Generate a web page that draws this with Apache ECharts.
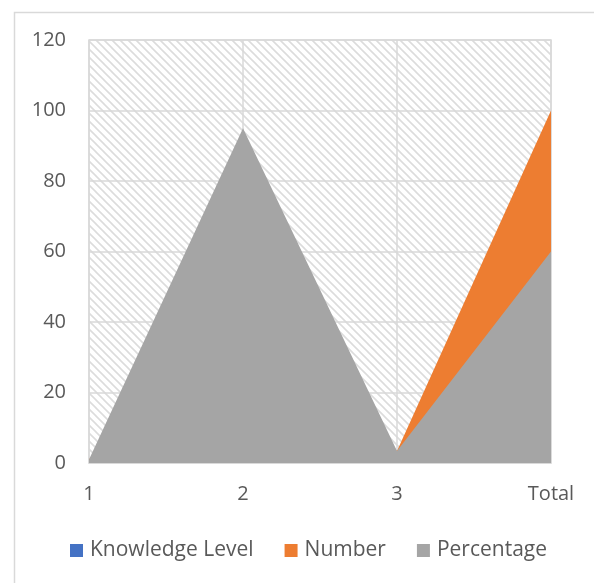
<!DOCTYPE html>
<html>
<head>
<meta charset="utf-8">
<style>
  html, body { margin: 0; padding: 0; background: #fff; }
  #chart { width: 594px; height: 583px; }
</style>
<script src="https://cdn.jsdelivr.net/npm/echarts@6/dist/echarts.min.js"></script>
</head>
<body>
<div id="chart"></div>
<script>
// Categories and series values
const categories = ['1', '2', '3', 'Total'];
const knowledgeLevel = [1, 2, 3, 6];
const numberValues = [1, 57, 3.4, 100];
const percentageValues = [1, 95, 3.4, 60];
const yTicks = { min: 0, max: 120, interval: 20 };

// Light diagonal hatching for the plot background
function makeHatch() {
  const size = 8;
  const c = document.createElement('canvas');
  c.width = size; c.height = size;
  const ctx = c.getContext('2d');
  ctx.fillStyle = '#ffffff';
  ctx.fillRect(0, 0, size, size);
  ctx.strokeStyle = '#dcdcdc';
  ctx.lineWidth = 1.6;
  ctx.beginPath();
  ctx.moveTo(-2, -2); ctx.lineTo(size + 2, size + 2);
  ctx.moveTo(-2, size - 2); ctx.lineTo(2, size + 2);
  ctx.moveTo(size - 2, -2); ctx.lineTo(size + 2, 2);
  ctx.stroke();
  return c;
}

const textColor = '#595959';
const font = '"Open Sans", Lato, sans-serif';
const axisFontSize = 20;
const legendFontSize = 21;
const chart = echarts.init(document.getElementById('chart'), null, { renderer: 'canvas' });

function areaSeries(name, data, color) {
  return {
    name: name,
    type: 'line',
    data: data,
    symbol: 'none',
    lineStyle: { width: 0, color: color },
    itemStyle: { color: color },
    areaStyle: { color: color, opacity: 1 },
    emphasis: { disabled: true }
  };
}

chart.setOption({
  animation: false,
  graphic: [{
    type: 'rect',
    left: 12, top: 10,
    shape: { width: 620, height: 620 },
    style: { fill: 'none', stroke: '#d9d9d9', lineWidth: 1.5 },
    z: -10
  }],
  grid: {
    left: 89, right: 43, top: 40, bottom: 120,
    show: true,
    backgroundColor: { image: makeHatch(), repeat: 'repeat' },
    borderColor: '#d9d9d9',
    borderWidth: 1.5
  },
  legend: {
    top: 535,
    left: 65,
    itemWidth: 13, itemHeight: 13, itemGap: 31,
    icon: 'rect',
    textStyle: { color: textColor, fontSize: legendFontSize, fontFamily: font, padding: [0, 0, 0, 2] },
    data: ['Knowledge Level', 'Number', 'Percentage']
  },
  xAxis: {
    type: 'category',
    data: categories,
    boundaryGap: false,
    axisLine: { show: true, lineStyle: { color: '#d9d9d9', width: 1.5 } },
    axisTick: { show: false },
    axisLabel: { color: textColor, fontSize: axisFontSize, fontFamily: font, margin: 21 },
    splitLine: { show: true, lineStyle: { color: '#d9d9d9', width: 1.5 } }
  },
  yAxis: {
    type: 'value',
    min: yTicks.min, max: yTicks.max, interval: yTicks.interval,
    axisLine: { show: false },
    axisTick: { show: false },
    axisLabel: { color: textColor, fontSize: axisFontSize, fontFamily: font, margin: 23 },
    splitLine: { lineStyle: { color: '#d9d9d9', width: 1.5 } }
  },
  series: [
    areaSeries('Knowledge Level', knowledgeLevel, '#4472c4'),
    areaSeries('Number', numberValues, '#ed7d31'),
    areaSeries('Percentage', percentageValues, '#a5a5a5')
  ]
});
</script>
</body>
</html>
